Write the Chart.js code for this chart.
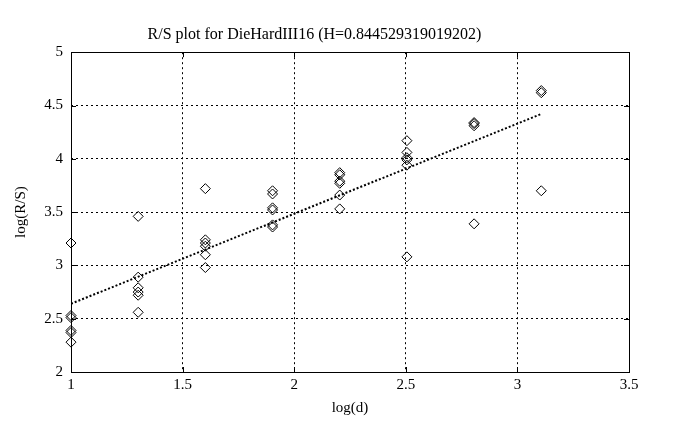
<!DOCTYPE html>
<html>
<head>
<meta charset="utf-8">
<script src="https://cdn.jsdelivr.net/npm/chart.js@4.4.1/dist/chart.umd.min.js"></script>
<style>
  html, body { margin: 0; padding: 0; background: #fff; }
  canvas { display: block; }
</style>
</head>
<body>
<canvas id="rsChart" width="686" height="430"></canvas>
<script>
// log(d) levels and the log(R/S) values measured at each level
const logD = [1, 1.301, 1.602, 1.903, 2.204, 2.505, 2.806, 3.107];
const logRS = [
  [3.21, 2.53, 2.51, 2.39, 2.37, 2.28],
  [3.46, 2.89, 2.79, 2.75, 2.72, 2.56],
  [3.72, 3.24, 3.21, 3.18, 3.10, 2.98],
  [3.70, 3.67, 3.54, 3.52, 3.38, 3.36],
  [3.87, 3.85, 3.79, 3.77, 3.66, 3.53],
  [4.17, 4.06, 4.01, 3.99, 3.94, 3.08],
  [4.34, 4.33, 4.31, 3.39],
  [4.64, 4.62, 3.70]
];
// fitted line end points
const fitX = [1, 3.107];
const fitY = [2.64, 4.42];
const xTicks = [1, 1.5, 2, 2.5, 3, 3.5];
const yTicks = [2, 2.5, 3, 3.5, 4, 4.5, 5];

const serif = "'Liberation Serif', 'DejaVu Serif', serif";

const points = [];
logD.forEach((x, i) => logRS[i].forEach(y => points.push({ x: x, y: y })));
const fitLine = fitX.map((x, i) => ({ x: x, y: fitY[i] }));

// solid frame with small inward tick marks, like the original plot
const framePlugin = {
  id: 'frame',
  afterDatasetsDraw(chart) {
    const { ctx, chartArea: a, scales } = chart;
    ctx.save();
    ctx.strokeStyle = '#000';
    ctx.lineWidth = 1;
    ctx.setLineDash([]);
    ctx.strokeRect(Math.round(a.left) + 0.5, Math.round(a.top) + 0.5,
      Math.round(a.right - a.left), Math.round(a.bottom - a.top));
    ctx.beginPath();
    xTicks.forEach(v => {
      const px = Math.round(scales.x.getPixelForValue(v)) + 0.5;
      ctx.moveTo(px, a.bottom); ctx.lineTo(px, a.bottom - 5);
      ctx.moveTo(px, a.top); ctx.lineTo(px, a.top + 5);
    });
    yTicks.forEach(v => {
      const py = Math.round(scales.y.getPixelForValue(v)) + 0.5;
      ctx.moveTo(a.left, py); ctx.lineTo(a.left + 5, py);
      ctx.moveTo(a.right, py); ctx.lineTo(a.right - 5, py);
    });
    ctx.stroke();
    ctx.restore();
  }
};

new Chart(document.getElementById('rsChart'), {
  type: 'scatter',
  data: {
    datasets: [
      {
        label: 'R/S',
        data: points,
        clip: false,
        pointStyle: 'rectRot',
        pointRadius: 5,
        pointBorderWidth: 1,
        pointBorderColor: '#000',
        pointBackgroundColor: 'rgba(0,0,0,0)'
      },
      {
        label: 'fit',
        data: fitLine,
        showLine: true,
        borderColor: '#000',
        borderWidth: 2,
        borderDash: [2, 2],
        pointRadius: 0
      }
    ]
  },
  options: {
    responsive: false,
    animation: false,
    layout: { padding: { left: 0, right: 57, top: 0, bottom: 0 } },
    plugins: {
      legend: { display: false },
      tooltip: { enabled: false },
      title: {
        display: true,
        text: 'R/S plot for DieHardIII16 (H=0.844529319019202)',
        color: '#000',
        font: { family: serif, size: 16, weight: 'normal' },
        padding: { top: 25, bottom: 8 }
      }
    },
    scales: {
      x: {
        type: 'linear',
        min: 1,
        max: 3.5,
        afterFit: s => { s.height = 58; },
        ticks: {
          stepSize: 0.5, color: '#000', padding: 4,
          font: { family: serif, size: 15 },
          callback: v => String(v)
        },
        grid: { color: '#000', drawTicks: false, lineWidth: 1 },
        border: { display: false, dash: [2, 3] },
        title: {
          display: true, text: 'log(d)', color: '#000',
          font: { family: serif, size: 15 }, padding: { top: 0, bottom: 13 }
        }
      },
      y: {
        type: 'linear',
        min: 2,
        max: 5,
        afterFit: s => { s.width = 71; },
        ticks: {
          stepSize: 0.5, color: '#000', padding: 8,
          font: { family: serif, size: 15 },
          callback: v => String(v)
        },
        grid: { color: '#000', drawTicks: false, lineWidth: 1 },
        border: { display: false, dash: [2, 3] },
        title: {
          display: true, text: 'log(R/S)', color: '#000',
          font: { family: serif, size: 15 }, padding: { top: 12 }
        }
      }
    }
  },
  plugins: [framePlugin]
});
</script>
</body>
</html>
